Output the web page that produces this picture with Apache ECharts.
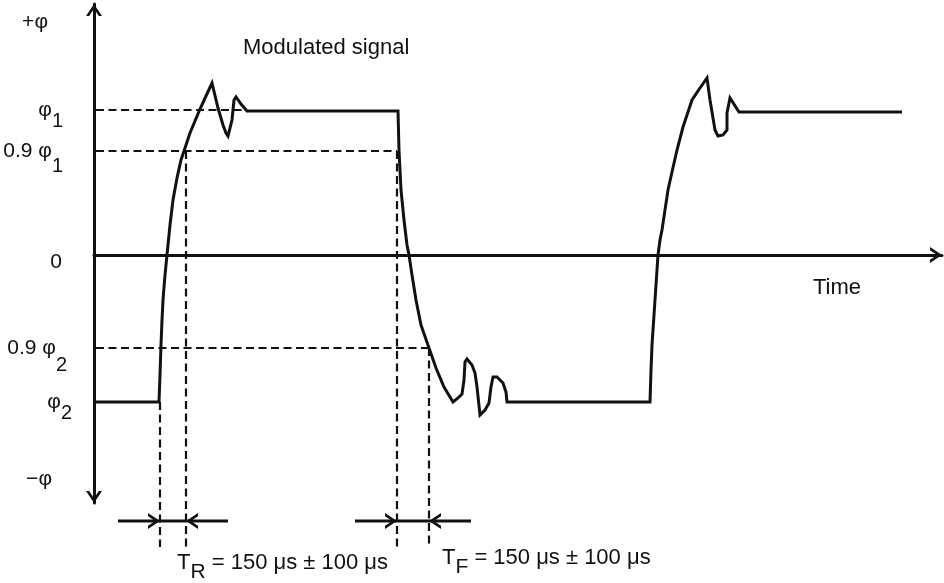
<!DOCTYPE html>
<html><head><meta charset="utf-8">
<script src="https://cdn.jsdelivr.net/npm/echarts@6/dist/echarts.min.js"></script>
<style>html,body{margin:0;padding:0;background:#fff}#c{width:944px;height:583px}</style>
</head><body><div id="c"></div>
<script>
// ---------------- data (time units / phase units of the sketch) ----------------
const signalTime = [2, 65, 66, 67, 68, 69, 71, 73, 76, 79, 83, 87, 91, 96, 101, 106, 112, 118,
  124, 129, 132, 134, 136, 138, 140, 142, 147, 153, 304,
  305, 307, 310, 313, 315, 318, 322, 327, 335, 342, 350, 359,
  364, 368, 370, 371, 373, 378, 381, 383, 386, 391, 395, 397, 399, 403, 409, 412, 413, 556,
  557, 558, 559, 561, 563, 564, 566, 568, 571, 574, 578, 583, 589, 594, 598, 606, 613,
  616, 621, 624, 629, 633, 633, 636, 645, 808];
const signalPhase = [-147, -147, -120, -90, -65, -45, -20, 0, 30, 55, 77, 95, 107, 122, 134, 146, 159, 172,
  147, 130, 122, 119, 121, 135, 155, 158, 151, 144, 144,
  105, 65, 35, 10, 0, -20, -45, -70, -93, -113, -132, -147,
  -143, -139, -125, -107, -104, -110, -118, -132, -160, -155, -148, -132, -122, -122, -128, -137, -147, -147,
  -115, -90, -75, -45, -15, 0, 15, 25, 45, 65, 83, 105, 128, 143, 155, 167, 177,
  155, 125, 119, 120, 125, 142, 157, 143, 143];

const tickValues = [233, 145, 104, 0, -93, -147, -224];
const tickMain = ['+φ', 'φ', '0.9 φ', '0', '0.9 φ', 'φ', '−φ'];
const tickSub = ['', '1', '1', '', '2', '2', ''];

const phi1 = 145, phi1At90 = 104, phi2At90 = -93, phi2 = -147;
const riseStart = 66, rise90 = 92, settleTime = 153, fallStart = 303, fall90 = 335;

const noteMain = ['Modulated signal', 'Time', 'T', 'T'];
const noteSub = ['', '', 'R', 'F'];
const noteRest = ['', '', ' = 150 μs ± 100 μs', ' = 150 μs ± 100 μs'];
const noteTime = [149, 719, 83, 348];
const notePhase = [207, -33, -308, -303];

// ---------------- layout / style ----------------
const INK = '#111111';
const FONT = '"Liberation Sans", Arial, sans-serif';
const CHEVRON = 'path://M0,12L8,0L16,12L12.8,12L8,4.8L3.2,12Z';
const axisStartT = 2, dimY = -266, guideBottom = -292, dimExt = 42;
// per-label layout: [rightPad, subShiftPadding, topPadMain]
const tickLayout = [[24, 0, 0], [9, 22, 0], [9, 30, 0], [10, 0, 14], [5, 34, 0], [0, 22, 0], [20, 0, 0]];

const rich = {};
tickValues.forEach((v, i) => {
  const [rp, sp, tp] = tickLayout[i];
  if (tickSub[i]) {
    rich['m' + i] = {fontSize: 21, lineHeight: 22, fontFamily: FONT, color: INK};
    rich['s' + i] = {fontSize: 20, lineHeight: 20, fontFamily: FONT, color: INK, padding: [sp, rp, 0, 0]};
  } else {
    rich['m' + i] = {fontSize: 21, lineHeight: 22, fontFamily: FONT, color: INK, padding: [tp, rp, 0, 0]};
  }
});

const noteRich = {
  big: {fontSize: 22, lineHeight: 24, fontFamily: FONT, color: INK},
  t: {fontSize: 22, lineHeight: 22, fontFamily: FONT, color: INK},
  ts: {fontSize: 21, lineHeight: 20, fontFamily: FONT, color: INK, padding: [18, 0, 0, 0]}
};

const dashStyle = {color: INK, width: 2.2, type: [8, 4.5]};
function guide(points) {
  return {type: 'line', data: points, symbol: 'none', clip: false, silent: true,
    lineStyle: dashStyle, z: 2, animation: false};
}
function dimension(t0, t1) {
  return {type: 'line', symbol: 'none', showSymbol: true, clip: false, silent: true, animation: false,
    lineStyle: {color: INK, width: 3}, itemStyle: {color: INK, borderWidth: 0}, z: 3,
    data: [
      [t0 - dimExt, dimY],
      {value: [t0, dimY], symbol: CHEVRON, symbolSize: [16, 12], symbolRotate: -90, symbolOffset: [-6, 0]},
      {value: [t1, dimY], symbol: CHEVRON, symbolSize: [16, 12], symbolRotate: 90, symbolOffset: [6, 0]},
      [t1 + dimExt, dimY]
    ]};
}

const chart = echarts.init(document.getElementById('c'), null, {renderer: 'canvas'});
chart.setOption({
  animation: false,
  backgroundColor: '#fff',
  grid: {left: 94, right: 2, top: 4, bottom: 80, containLabel: false},
  xAxis: {
    type: 'value', min: 0, max: 848,
    axisLine: {show: true, onZero: true, lineStyle: {color: INK, width: 3},
      symbol: ['none', CHEVRON], symbolSize: [16, 12], symbolOffset: [0, -6]},
    axisTick: {show: false}, axisLabel: {show: false}, splitLine: {show: false}
  },
  yAxis: {
    type: 'value', min: -248, max: 251,
    axisLine: {show: true, onZero: false, lineStyle: {color: INK, width: 3},
      symbol: [CHEVRON, CHEVRON], symbolSize: [16, 12], symbolOffset: [6, -6]},
    axisTick: {show: false}, splitLine: {show: false},
    axisLabel: {
      show: true, margin: 22, color: INK, customValues: tickValues, rich: rich,
      formatter: function (v) {
        const i = tickValues.indexOf(v);
        if (i < 0) return '';
        return '{m' + i + '|' + tickMain[i] + '}' + (tickSub[i] ? '{s' + i + '|' + tickSub[i] + '}' : '');
      }
    }
  },
  series: [
    guide([[axisStartT, phi1], [settleTime, phi1]]),
    guide([[axisStartT, phi1At90], [fallStart, phi1At90]]),
    guide([[axisStartT, phi2At90], [fall90, phi2At90]]),
    guide([[riseStart, phi2], [riseStart, guideBottom]]),
    guide([[rise90, phi1At90], [rise90, guideBottom]]),
    guide([[fallStart, phi1At90], [fallStart, guideBottom]]),
    guide([[fall90, phi2At90], [fall90, guideBottom]]),
    dimension(riseStart, rise90),
    dimension(fallStart, fall90),
    {
      type: 'line', name: 'Modulated signal', symbol: 'none', silent: true, animation: false, z: 5,
      lineStyle: {color: INK, width: 3, join: 'miter'},
      data: signalTime.map((t, i) => [t, signalPhase[i]])
    },
    {
      type: 'scatter', clip: false, silent: true, symbolSize: 0, animation: false,
      itemStyle: {color: INK, opacity: 1},
      label: {show: true, position: 'right', distance: 0, color: INK, opacity: 1, rich: noteRich,
        formatter: function (p) {
          const i = p.dataIndex;
          if (!noteSub[i]) return '{big|' + noteMain[i] + '}';
          return '{t|' + noteMain[i] + '}{ts|' + noteSub[i] + '}{t|' + noteRest[i] + '}';
        }},
      data: noteTime.map((t, i) => [t, notePhase[i]])
    }
  ]
});
</script></body></html>
